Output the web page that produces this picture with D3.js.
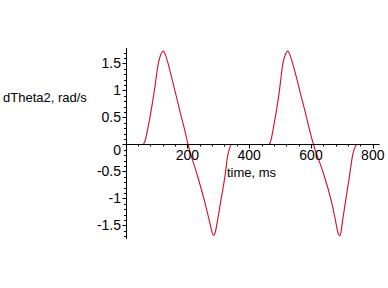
<!DOCTYPE html>
<html>
<head>
<meta charset="utf-8">
<script src="https://cdn.jsdelivr.net/npm/d3@7"></script>
<style>
  html, body { margin: 0; padding: 0; background: #fff; }
  svg text { font-family: "Liberation Sans Narrow", "Arial Narrow", "Liberation Sans", Arial, sans-serif; fill: #000; }
</style>
</head>
<body>
<div id="chart"></div>
<script>
// time in ms
const time_ms = [
  0, 50, 56, 63, 72, 91, 107, 115, 122, 129, 136, 150, 163, 176, 190, 202,
  230, 260, 273, 280, 285, 290, 296, 305, 323, 330, 336, 343,
  460, 463, 470, 478, 496, 510, 518, 525, 532, 539, 554, 567, 581, 594, 608,
  640, 670, 681, 687, 692, 697, 701, 709, 726, 734, 740, 748
];

// dTheta2 in rad/s
const dtheta2 = [
  0, 0, 0, 0.07, 0.30, 0.92, 1.53, 1.68, 1.73, 1.66, 1.53, 1.22, 0.92, 0.61, 0.30, 0,
  -0.53, -1.15, -1.46, -1.63, -1.69, -1.63, -1.46, -1.15, -0.53, -0.22, -0.08, 0,
  0, 0, 0.07, 0.30, 0.92, 1.53, 1.68, 1.73, 1.66, 1.53, 1.22, 0.92, 0.61, 0.30, 0,
  -0.53, -1.15, -1.46, -1.63, -1.69, -1.63, -1.46, -1.15, -0.53, -0.22, -0.08, 0
];

const x_ticks = [200, 400, 600, 800];
const y_ticks = [-1.5, -1, -0.5, 0, 0.5, 1, 1.5];
const y_title = "dTheta2, rad/s";
const x_title = "time, ms";

const width = 388;
const height = 288;

const svg = d3.select("#chart")
  .append("svg")
  .attr("width", width)
  .attr("height", height);

const x = d3.scaleLinear().domain([0, 822]).range([125.6, 379.6]);
const y = d3.scaleLinear().domain([-1.75, 1.787]).range([239, 48]);

const x0 = Math.round(x(0)) + 0.5;
const y0 = Math.round(y(0)) + 0.5;

// the curve goes under the axes, so the flat parts look black
const points = time_ms.map((t, i) => ({ t: t, v: dtheta2[i] }));

const line = d3.line()
  .x((d) => x(d.t))
  .y((d) => y(d.v))
  .curve(d3.curveMonotoneX);

svg.append("path")
  .datum(points)
  .attr("d", line)
  .attr("fill", "none")
  .attr("stroke", "#d0102a")
  .attr("stroke-width", 1.1);

// minor ticks
const x_minor = d3.range(40, 822, 40);
const y_minor = d3.range(-17, 18).map((d) => d / 10);

svg.append("g")
  .selectAll("line")
  .data(x_minor)
  .enter()
  .append("line")
  .attr("x1", (d) => Math.round(x(d)) + 0.5)
  .attr("x2", (d) => Math.round(x(d)) + 0.5)
  .attr("y1", y0)
  .attr("y2", (d) => y0 + (d % 200 === 0 ? 4 : 2))
  .attr("stroke", "#000");

svg.append("g")
  .selectAll("line")
  .data(y_minor)
  .enter()
  .append("line")
  .attr("y1", (d) => Math.round(y(d)) + 0.5)
  .attr("y2", (d) => Math.round(y(d)) + 0.5)
  .attr("x1", x0)
  .attr("x2", (d) => x0 - (Math.abs(d * 2 - Math.round(d * 2)) < 1e-6 ? 4 : 2.5))
  .attr("stroke", "#000");

// axis lines
svg.append("line")
  .attr("x1", x0).attr("x2", x0)
  .attr("y1", y(1.787)).attr("y2", y(-1.75))
  .attr("stroke", "#000");

svg.append("line")
  .attr("x1", x0).attr("x2", x(822))
  .attr("y1", y0).attr("y2", y0)
  .attr("stroke", "#000");

// tick labels
svg.append("g")
  .selectAll("text")
  .data(x_ticks)
  .enter()
  .append("text")
  .attr("x", (d) => x(d))
  .attr("y", 160)
  .attr("text-anchor", "middle")
  .attr("font-size", 14)
  .text((d) => d);

svg.append("g")
  .selectAll("text")
  .data(y_ticks)
  .enter()
  .append("text")
  .attr("x", 121)
  // the 0 label sits a little below the x axis
  .attr("y", (d) => y(d) + 5 + (d === 0 ? 6 : 0))
  .attr("text-anchor", "end")
  .attr("font-size", 14)
  .text((d) => d);

// axis titles
svg.append("text")
  .attr("x", 3)
  .attr("y", 101.5)
  .attr("font-size", 13)
  .style("font-family", "'Liberation Sans', Arial, sans-serif")
  .text(y_title);

svg.append("text")
  .attr("x", 227)
  .attr("y", 177)
  .attr("font-size", 13)
  .style("font-family", "'Liberation Sans', Arial, sans-serif")
  .text(x_title);
</script>
</body>
</html>
